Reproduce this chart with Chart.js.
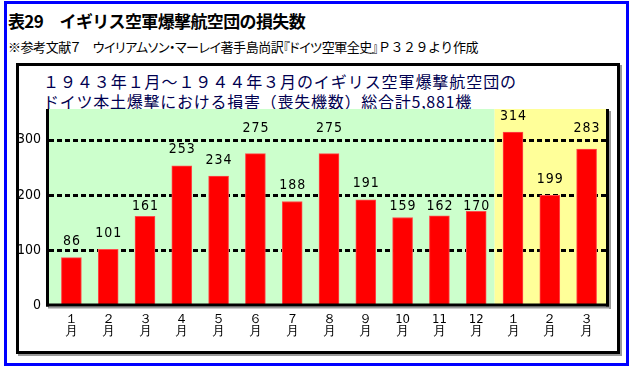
<!DOCTYPE html>
<html><head><meta charset="utf-8">
<script src="https://cdn.jsdelivr.net/npm/chart.js@4"></script>
<style>
html,body{margin:0;padding:0;background:#fff;}
#wrap{position:relative;width:632px;height:370px;overflow:hidden;background:#fff;}
#blue{position:absolute;left:4px;top:1px;width:625px;height:365px;box-sizing:border-box;border:3px solid #0000ff;}
#frame{position:absolute;left:16px;top:63px;width:604px;height:291px;box-sizing:border-box;border:3.5px solid #000;box-shadow:2px 2px 0 #9a9a9a;}
.t{position:absolute;white-space:nowrap;font-family:"Noto Sans CJK JP","Noto Sans CJK SC",sans-serif;line-height:1;}
#h1{left:8px;top:12px;font-size:17px;font-weight:bold;color:#000;}
#sub{left:8px;top:40px;font-size:13px;color:#000;}
#sub .p{font-feature-settings:"palt";}
#l1{left:43px;top:73px;font-size:16px;color:#000050;}
#l2{left:43px;top:93px;font-size:16px;color:#000050;}
canvas{position:absolute;left:0;top:0;}
</style></head>
<body>
<div id="wrap">
  <div id="blue"></div>
  <div id="frame"></div>
  <div class="t" id="h1" data-w="297">表29　イギリス空軍爆撃航空団の損失数</div>
  <div class="t" id="sub" data-w="470"><span class="p">※参考文献７　ウイリアムソン・マーレイ著手島尚訳『ドイツ空軍全史』</span>Ｐ３２９より作成</div>
  <div class="t" id="l1" data-w="474">１９４３年１月～１９４４年３月のイギリス空軍爆撃航空団の</div>
  <div class="t" id="l2" data-w="429">ドイツ本土爆撃における損害（喪失機数）総合計5,881機</div>
  <canvas id="c" width="632" height="370"></canvas>
</div>
<script>
// ---- data ----
const months = ["１","２","３","４","５","６","７","８","９","10","11","12","１","２","３"];
const monthSuffix = "月";
const losses = [86,101,161,253,234,275,188,275,191,159,162,170,314,199,283];
const yTicks = [0,100,200,300];
const yMax = 356;
const months1943 = 12;

// fit text widths
document.querySelectorAll('.t').forEach(el=>{
  const target = +el.dataset.w;
  const n = [...el.textContent].length;
  const w = el.getBoundingClientRect().width;
  el.style.letterSpacing = ((target - w) / n) + 'px';
});

const numFont = '"Liberation Sans Narrow","DejaVu Sans Condensed","Roboto Condensed",sans-serif';

const decor = {
  id:'decor',
  beforeDraw(chart){
    const {ctx, chartArea:a, scales:{x}} = chart;
    const step = x.getPixelForValue(1) - x.getPixelForValue(0);
    const split = x.getPixelForValue(months1943 - 1) + step/2;
    ctx.save();
    ctx.fillStyle = '#ccffcc';
    ctx.fillRect(a.left - 6, a.top, split - (a.left - 6), a.bottom - a.top);
    ctx.fillStyle = '#ffff99';
    ctx.fillRect(split, a.top, a.right + 1 - split, a.bottom - a.top);
    ctx.restore();
  },
  beforeDatasetsDraw(chart){
    const {ctx, chartArea:a, scales:{y}} = chart;
    ctx.save();
    ctx.strokeStyle = '#000';
    ctx.lineWidth = 3;
    ctx.setLineDash([5,3]);
    yTicks.filter(v=>v>0).forEach(v=>{
      const py = Math.round(y.getPixelForValue(v)) + 0.5;
      ctx.beginPath();
      ctx.moveTo(a.left - 4, py);
      ctx.lineTo(a.right + 1, py);
      ctx.stroke();
    });
    ctx.restore();
  },
  afterDatasetsDraw(chart){
    const {ctx, chartArea:a, scales:{y}} = chart;
    const y0 = Math.round(y.getPixelForValue(0));
    const L = a.left - 7, R = a.right + 1;
    ctx.save();
    // shadows
    ctx.fillStyle = '#9a9a9a';
    ctx.fillRect(L + 2, y0 + 1.5, R + 3 - L, 2);
    ctx.fillRect(R + 3, a.top + 2, 2, y0 + 2 - a.top);
    // axis lines
    ctx.fillStyle = '#000';
    ctx.fillRect(L, a.top, 3, y0 + 1.5 - a.top);
    ctx.fillRect(L, y0 - 1.5, R + 3 - L, 3);
    ctx.fillRect(R, a.top, 3, y0 + 1.5 - a.top);
    // value labels (moved off the dotted gridlines, like the original)
    ctx.font = '14px ' + numFont;
    if ('letterSpacing' in ctx) ctx.letterSpacing = '1px';
    ctx.fillStyle = '#000';
    ctx.textAlign = 'center';
    ctx.textBaseline = 'middle';
    const gridPx = yTicks.filter(v=>v>0).map(v=>y.getPixelForValue(v));
    chart.getDatasetMeta(0).data.forEach((bar,i)=>{
      const top = y.getPixelForValue(losses[i]);
      let cy = top - 16;
      gridPx.forEach(g=>{
        if (Math.abs(cy - g) < 8) {
          cy = (g + 11 + 5 <= top + 2) ? g + 11 : g - 11;
        }
      });
      ctx.fillText(String(losses[i]), bar.x + 0.5, cy);
    });
    ctx.restore();
  }
};

new Chart(document.getElementById('c'), {
  type:'bar',
  data:{
    labels: months.map(m=>[m, monthSuffix]),
    datasets:[{
      data: losses,
      backgroundColor:'#ff0000',
      borderColor:'#ff4a4a',
      borderWidth:1,
      barThickness:20
    }]
  },
  options:{
    responsive:false,
    animation:false,
    events:[],
    layout:{padding:{left:0,right:27,top:109,bottom:25}},
    plugins:{legend:{display:false},tooltip:{enabled:false},title:{display:false}},
    scales:{
      x:{
        grid:{display:false,drawTicks:false},
        border:{display:false},
        ticks:{color:'#000',font:{family:numFont,size:13,lineHeight:0.95},padding:8,maxRotation:0,autoSkip:false},
        afterFit(s){ s.height = 40; }
      },
      y:{
        min:0,max:yMax,
        grid:{display:false,drawTicks:false},
        border:{display:false},
        afterBuildTicks(s){ s.ticks = yTicks.map(v=>({value:v})); },
        ticks:{color:'#000',font:{family:numFont,size:14},padding:12},
        afterFit(s){ s.width = 53; }
      }
    }
  },
  plugins:[decor]
});
</script>
</body></html>
